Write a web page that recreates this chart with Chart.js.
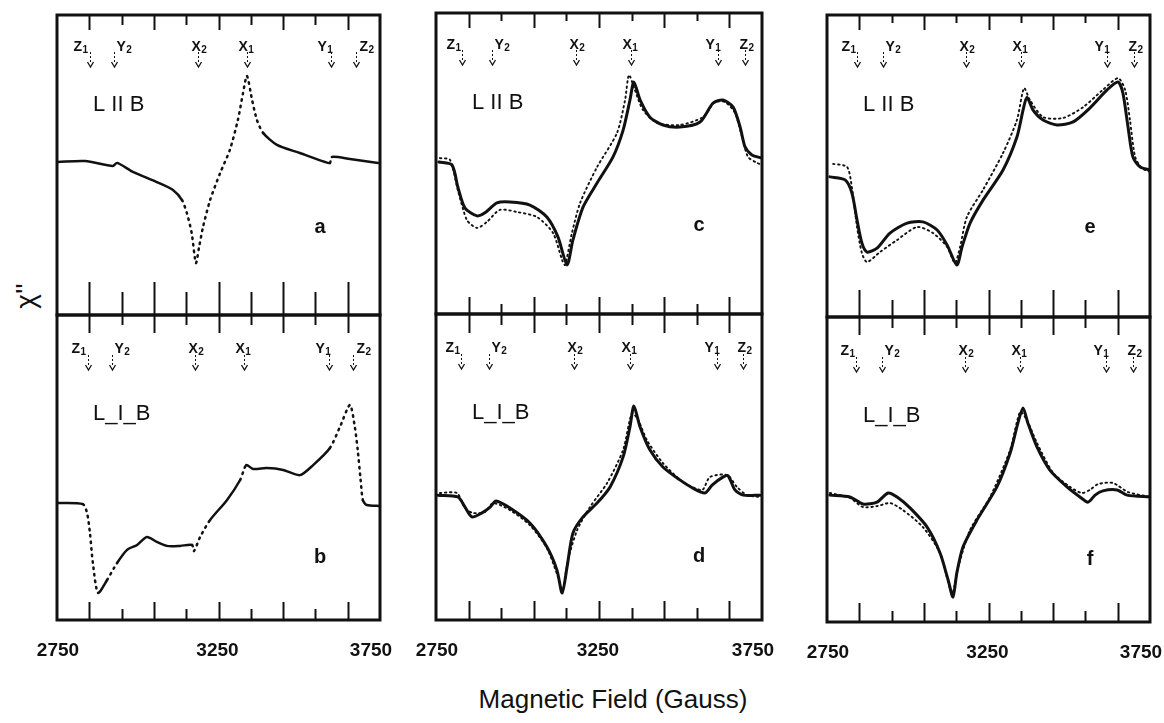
<!DOCTYPE html>
<html>
<head>
<meta charset="utf-8">
<title>Magnetic Field (Gauss)</title>
<script src="https://cdn.jsdelivr.net/npm/chart.js@4.4.1/dist/chart.umd.min.js"></script>
<style>
  body { margin: 0; background: #fff; }
  #page { position: relative; width: 1164px; height: 723px; overflow: hidden;
          font-family: 'Liberation Sans', Arial, sans-serif; color: #111; }
  #page canvas { position: absolute; }
  .ylab { position: absolute; left: 6px; top: 276px; width: 40px; height: 40px; line-height: 40px;
          text-align: center; font-size: 28px; transform: rotate(-90deg); }
  .xlab { position: absolute; left: 463px; width: 300px; top: 684px; text-align: center;
          font-size: 26px; white-space: nowrap; }
</style>
</head>
<body>
<div id="page">
  <div class="ylab">χ''</div>
  <div class="xlab">Magnetic Field (Gauss)</div>
</div>
<script>
// field axis
const fieldTicks = [2850, 2950, 3050, 3150, 3250, 3350, 3450, 3550, 3650];
const fieldLabels = [2750, 3250, 3750];

// resonance markers (letter, subscript) and their field positions per panel
const markerLetters = ['Z', 'Y', 'X', 'X', 'Y', 'Z'];
const markerSubs = ['1', '2', '2', '1', '1', '2'];
const markersA = [2852, 2926, 3186, 3338, 3598, 3676];
const markersB = [2846, 2920, 3177, 3330, 3593, 3666];
const markersC = [2830, 2922, 3179, 3348, 3615, 3698];
const markersD = [2827, 2913, 3173, 3345, 3612, 3692];
const markersE = [2843, 2923, 3180, 3350, 3617, 3700];
const markersF = [2839, 2920, 3177, 3347, 3613, 3697];

// a: L || B, experiment only
const fieldA = [2753, 2837, 2923, 2936, 2985, 3059, 3109, 3137, 3152, 3167, 3180, 3190, 3202, 3224, 3255,
                3285, 3310, 3326, 3338, 3354, 3369, 3388, 3431, 3502, 3580, 3595, 3601, 3657, 3744];
const chiA = [51, 51.3, 49.7, 50.7, 47.7, 44.3, 41.7, 38.3, 34, 27.3, 17.3, 22.7, 29.3, 38.3, 47.3,
              55, 65, 74, 79.7, 71.7, 65, 60.7, 56.7, 54, 51, 50.7, 52.7, 52, 50.7];

// b: L _|_ B, experiment only
const fieldB = [2753, 2830, 2843, 2852, 2861, 2877, 2905, 2936, 2967, 2998, 3028, 3059, 3090, 3131, 3168,
                3174, 3193, 3224, 3276, 3317, 3336, 3357, 3400, 3450, 3502, 3543, 3595, 3626, 3657, 3672,
                3681, 3690, 3697, 3709, 3750];
const chiB = [38.4, 38, 35.1, 28.5, 18.7, 8.9, 13.1, 18.7, 23, 24.6, 27.2, 25.6, 24.3, 24.3, 24.6,
              22.6, 27.2, 32.8, 39.3, 45.9, 50.8, 49.5, 49.8, 49.2, 47.5, 50.8, 56.4, 63.3, 70.5, 63.3,
              55.7, 45.9, 39.3, 37.7, 37.4];

// c: L || B, simulation (solid) and experiment (dotted)
const fieldCSim = [2759, 2799, 2817, 2839, 2876, 2900, 2937, 2977, 3038, 3090, 3124, 3152, 3170, 3201, 3244,
                   3293, 3324, 3345, 3357, 3376, 3406, 3446, 3498, 3560, 3600, 3630, 3661, 3683, 3698, 3719, 3750];
const chiCSim = [50.5, 49.5, 42.2, 35.2, 32.6, 33.6, 36.9, 37.2, 36.2, 32.2, 25.6, 16.3, 24.6, 35.5, 43.5,
                 52.2, 61.1, 71.1, 77.1, 71.1, 65.4, 62.8, 62.1, 63.8, 70.1, 71.1, 68.8, 62.1, 55.5, 52.8, 51.8];
const fieldCExp = [2762, 2793, 2817, 2845, 2876, 2906, 2946, 2998, 3060, 3109, 3137, 3146, 3167, 3192, 3244,
                   3305, 3330, 3342, 3360, 3385, 3428, 3498, 3569, 3606, 3637, 3667, 3689, 3707, 3735, 3750];
const chiCExp = [51.8, 51.2, 41.2, 31.2, 28.6, 30.6, 34.6, 33.9, 32.2, 26.9, 17.9, 16.3, 26.9, 36.9, 48.8,
                 60.1, 71.1, 79.4, 74.4, 67.8, 63.5, 62.8, 65.4, 70.4, 70.4, 66.8, 58.8, 52.2, 50.2, 49.5];

// d: L _|_ B
const fieldDSim = [2756, 2817, 2839, 2860, 2891, 2916, 2934, 2977, 3038, 3090, 3121, 3137, 3152, 3170, 3201, 3244,
                   3284, 3324, 3345, 3357, 3376, 3406, 3446, 3498, 3538, 3575, 3597, 3630, 3646, 3667, 3692, 3744];
const chiDSim = [40.8, 40.2, 36.9, 33.7, 35, 36.9, 38.9, 36.6, 31.7, 23.9, 16.3, 8.8, 17.3, 28.4, 33.7, 38.2,
                 43.5, 53.3, 63.1, 69.9, 63.1, 55.6, 50, 45.8, 43.1, 41.5, 44.1, 46.7, 47.1, 42.5, 40.8, 40.8];
const fieldDExp = [2762, 2814, 2839, 2863, 2900, 2925, 2977, 3038, 3090, 3124, 3137, 3155, 3183, 3222, 3275,
                   3324, 3351, 3370, 3397, 3446, 3508, 3566, 3590, 3643, 3673, 3704, 3744];
const chiDExp = [41.5, 41.5, 36.6, 35, 35.3, 38.2, 35.9, 31, 23.5, 14.1, 9.2, 19.6, 29.4, 36.9, 44.8,
                 55.6, 67.6, 65.4, 58.8, 51.3, 45.1, 42.5, 46.7, 47.4, 43.5, 40.8, 40.2];

// e: L || B
const fieldESim = [2759, 2806, 2827, 2843, 2858, 2874, 2905, 2945, 2998, 3047, 3091, 3122, 3152, 3168, 3193, 3233,
                   3295, 3338, 3357, 3369, 3388, 3419, 3462, 3512, 3564, 3617, 3651, 3666, 3682, 3697, 3719, 3750];
const chiESim = [46.4, 45.4, 41.1, 32.1, 24.5, 21.5, 22.8, 27.8, 31.1, 31.5, 28.8, 23.8, 17.2, 23.2, 31.1, 38.7,
                 48.7, 59.6, 68.5, 72.8, 68.5, 65.2, 63.6, 64.6, 69.2, 75.2, 77.8, 74.2, 62.9, 53, 49.7, 48.7];
const fieldEExp = [2769, 2812, 2827, 2843, 2858, 2874, 2914, 2967, 3029, 3078, 3122, 3146, 3162, 3183, 3233,
                   3295, 3338, 3360, 3378, 3419, 3481, 3543, 3604, 3651, 3673, 3688, 3704, 3725, 3750];
const chiEExp = [50.7, 49.7, 43, 29.8, 21.2, 18.2, 21.5, 25.5, 29.8, 27.8, 23.2, 17.9, 23.2, 33.1, 42.1,
                 54.3, 65.2, 75.8, 71.9, 66.2, 65.9, 69.5, 75.2, 79.1, 75.2, 65.2, 53, 49.3, 48];

// f: L _|_ B
const fieldFSim = [2759, 2821, 2861, 2905, 2939, 2967, 3007, 3060, 3100, 3125, 3140, 3152, 3171, 3214, 3276,
                   3317, 3341, 3357, 3372, 3400, 3440, 3493, 3533, 3558, 3580, 3604, 3648, 3679, 3750];
const chiFSim = [41.6, 41, 38.7, 39.3, 42.3, 41, 37.4, 31.1, 22.6, 13.8, 8.2, 16.1, 24.6, 33.4, 44.3,
                 55.4, 65.2, 70.2, 65.2, 57.4, 49.8, 44.3, 41, 39.3, 41.6, 43, 43.3, 41.6, 41];
const fieldFExp = [2759, 2821, 2861, 2905, 2945, 2985, 3047, 3100, 3137, 3156, 3193, 3255, 3317, 3348, 3369,
                   3400, 3450, 3502, 3539, 3564, 3589, 3635, 3682, 3750];
const chiFExp = [42.3, 40.7, 37.7, 38, 39, 36.7, 31.1, 22.6, 9.5, 18, 30.2, 41, 56.4, 68.9, 66.2,
                 58.7, 48.9, 44.3, 42.3, 43.3, 45.2, 45.6, 42.6, 41];

const INK = '#111';
const FONT = "'Liberation Sans', Arial, sans-serif";

// letter offset of each marker label, relative to its arrow
const shiftWide = [-17, 2, -7, -9, -14, 3];
const shiftNarrow = [-16, 2, -7, -9, -13, -6];
const labelShift = [1, -1, -9];

// panel frames in page pixels: [left, top, right, bottom]
const panels = [
  { box: [57, 15, 380, 315], tag: 'a', title: 'L II B', markers: markersA, shift: shiftWide,
    tickTop: [15, 10], tickBot: [33, 23], series: [{ field: fieldA, chi: chiA, kind: 'trace' }] },
  { box: [57, 315, 380, 620], tag: 'b', title: 'L_I_B', markers: markersB, shift: shiftWide,
    tickTop: [18, 10], tickBot: [18, 11], labels: true, series: [{ field: fieldB, chi: chiB, kind: 'trace' }] },
  { box: [436, 13, 762, 314], tag: 'c', title: 'L II B', markers: markersC, shift: shiftNarrow,
    tickTop: [15, 8], tickBot: [17, 10],
    series: [{ field: fieldCExp, chi: chiCExp, kind: 'exp' }, { field: fieldCSim, chi: chiCSim, kind: 'sim' }] },
  { box: [436, 314, 762, 620], tag: 'd', title: 'L_I_B', markers: markersD, shift: shiftNarrow,
    tickTop: [19, 11], tickBot: [19, 12], labels: true,
    series: [{ field: fieldDExp, chi: chiDExp, kind: 'exp' }, { field: fieldDSim, chi: chiDSim, kind: 'sim' }] },
  { box: [827, 15, 1150, 317], tag: 'e', title: 'L II B', markers: markersE, shift: shiftNarrow,
    tickTop: [15, 8], tickBot: [27, 17],
    series: [{ field: fieldEExp, chi: chiEExp, kind: 'exp' }, { field: fieldESim, chi: chiESim, kind: 'sim' }] },
  { box: [827, 317, 1150, 622], tag: 'f', title: 'L_I_B', markers: markersF, shift: shiftNarrow,
    tickTop: [18, 11], tickBot: [19, 11], labels: true,
    series: [{ field: fieldFExp, chi: chiFExp, kind: 'exp' }, { field: fieldFSim, chi: chiFSim, kind: 'sim' }] }
];

function framePlugin(cfg) {
  const isTop = !cfg.labels;
  return {
    id: 'frame',
    afterDraw(chart) {
      const { ctx, chartArea: a, scales: { x } } = chart;
      ctx.save();
      ctx.strokeStyle = INK;
      ctx.fillStyle = INK;

      // inward ticks on top and bottom edges
      ctx.lineWidth = 2;
      fieldTicks.forEach((f, i) => {
        const px = Math.round(x.getPixelForValue(f)) + 0.5;
        const lt = i % 2 === 0 ? cfg.tickTop[0] : cfg.tickTop[1];
        const lb = i % 2 === 0 ? cfg.tickBot[0] : cfg.tickBot[1];
        ctx.beginPath();
        ctx.moveTo(px, a.top); ctx.lineTo(px, a.top + lt);
        ctx.moveTo(px, a.bottom); ctx.lineTo(px, a.bottom - lb);
        ctx.stroke();
      });

      // frame
      ctx.lineWidth = 3;
      ctx.strokeRect(a.left, a.top, a.right - a.left, a.bottom - a.top);

      // resonance markers
      cfg.markers.forEach((f, i) => {
        const px = Math.round(x.getPixelForValue(f)) + 0.5;
        const y0 = a.top + (isTop ? 37 : 40);
        ctx.lineWidth = 1;
        ctx.setLineDash([2, 2]);
        ctx.beginPath(); ctx.moveTo(px, y0); ctx.lineTo(px, y0 + 12); ctx.stroke();
        ctx.setLineDash([]);
        ctx.lineWidth = 1.3;
        ctx.beginPath(); ctx.moveTo(px - 3, y0 + 10); ctx.lineTo(px, y0 + 15); ctx.lineTo(px + 3, y0 + 10); ctx.stroke();

        const lx = px + cfg.shift[i];
        const by = a.top + (isTop ? 36 : 38);
        ctx.textAlign = 'left';
        ctx.textBaseline = 'alphabetic';
        ctx.font = 'bold 14px ' + FONT;
        ctx.fillText(markerLetters[i], lx, by);
        const w = ctx.measureText(markerLetters[i]).width;
        ctx.font = 'bold 10px ' + FONT;
        ctx.fillText(markerSubs[i], lx + w + 0.5, by + 2);
      });

      // orientation title and panel letter
      ctx.textBaseline = 'middle';
      ctx.textAlign = 'left';
      ctx.font = '22px ' + FONT;
      ctx.fillText(cfg.title, a.left + 36, a.top + (isTop ? 90 : 99));
      ctx.textAlign = 'center';
      ctx.font = 'bold 20px ' + FONT;
      ctx.fillText(cfg.tag, a.left + 263, a.top + (isTop ? 212 : 242));

      // field labels under the bottom row
      if (cfg.labels) {
        ctx.font = 'bold 19px ' + FONT;
        fieldLabels.forEach((f, i) => {
          ctx.fillText(String(f), x.getPixelForValue(f) + labelShift[i], a.bottom + 31);
        });
      }
      ctx.restore();
    }
  };
}

function makePanel(cfg) {
  const [l, t, r, b] = cfg.box;
  const padX = 30, padT = 4, padB = cfg.labels ? 56 : 4;
  const canvas = document.createElement('canvas');
  canvas.width = r - l + 2 * padX;
  canvas.height = b - t + padT + padB;
  canvas.style.left = (l - padX) + 'px';
  canvas.style.top = (t - padT) + 'px';
  document.getElementById('page').appendChild(canvas);

  const datasets = cfg.series.map(s => {
    const ds = {
      data: s.field.map((f, i) => ({ x: f, y: s.chi[i] })),
      borderColor: INK,
      borderWidth: s.kind === 'sim' ? 3 : 2.5,
      pointRadius: 0,
      tension: 0.25,
      fill: false,
      borderCapStyle: 'round'
    };
    if (s.kind === 'exp') {
      ds.borderDash = [1.5, 3.5];
      ds.borderWidth = 1.9;
    }
    if (s.kind === 'trace') {
      // steep stretches of the recorded trace show up as separate dots
      ds.segment = {
        borderDash: c => Math.abs(c.p1.y - c.p0.y) > 1.6 * Math.abs(c.p1.x - c.p0.x) ? [1.5, 5] : undefined
      };
    }
    return ds;
  });

  new Chart(canvas, {
    type: 'line',
    data: { datasets },
    options: {
      responsive: false,
      animation: false,
      events: [],
      layout: { padding: { left: padX, right: padX, top: padT, bottom: padB } },
      plugins: { legend: { display: false }, tooltip: { enabled: false } },
      scales: {
        x: { type: 'linear', min: 2750, max: 3750, display: false },
        y: { min: 0, max: 100, display: false }
      }
    },
    plugins: [framePlugin(cfg)]
  });
}

panels.forEach(makePanel);
</script>
</body>
</html>
